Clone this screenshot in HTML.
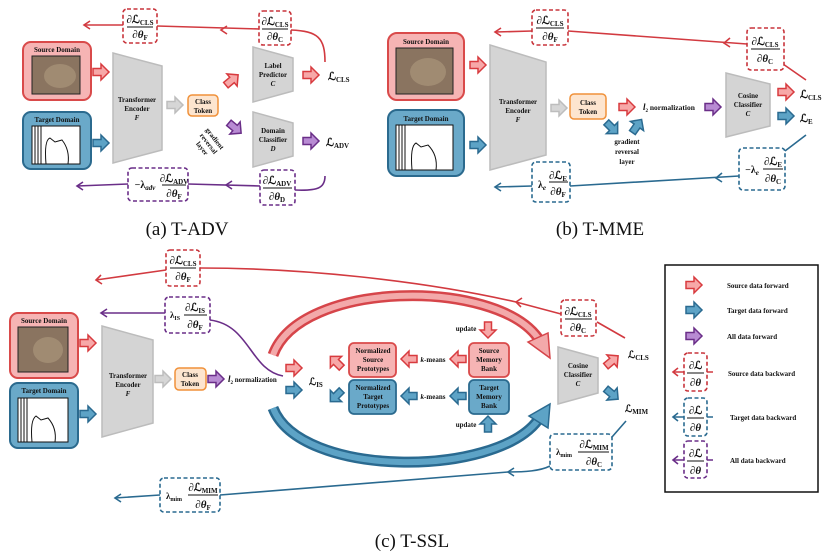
<!DOCTYPE html>
<html><head><meta charset="utf-8"><style>
body{margin:0;background:#fff}
svg{display:block}
text{font-family:"Liberation Serif","DejaVu Serif",serif;font-weight:bold;fill:#111}
.t{font-size:7px;text-anchor:middle}
.f{font-size:11px;text-anchor:middle}
.s{font-size:7px}
.cap{font-size:19px;font-weight:normal;text-anchor:middle}
.lg{font-size:7px}
.rd{fill:#fff;stroke:#c8343b;stroke-width:1.6;stroke-dasharray:4 2.5}
.bd{fill:#fff;stroke:#2a6a90;stroke-width:1.6;stroke-dasharray:4 2.5}
.pd{fill:#fff;stroke:#6a2e88;stroke-width:1.6;stroke-dasharray:4 2.5}
.rl{fill:none;stroke:#d23a40;stroke-width:1.6}
.bl{fill:none;stroke:#2a6a90;stroke-width:1.6}
.pl{fill:none;stroke:#6a2e88;stroke-width:1.6}
.R{fill:#f7a8a8;stroke:#d83b3f;stroke-width:1.5}
.B{fill:#5da3c6;stroke:#2a6a90;stroke-width:1.5}
.P{fill:#b88bd3;stroke:#6a2e88;stroke-width:1.5}
.G{fill:#d6d6d6;stroke:#bdbdbd;stroke-width:1.5}
.enc{fill:#d4d4d4;stroke:#bcbcbc;stroke-width:1.5}
.sd{fill:#f6b4b4;stroke:#d94a4a;stroke-width:2}
.td{fill:#6aa9c9;stroke:#2b6a8e;stroke-width:2}
</style></head><body>
<svg width="827" height="552" viewBox="0 0 827 552" xmlns="http://www.w3.org/2000/svg">
<defs>
<path id="ba" d="M-8,-3.5 H0 V-8 L8,0 L0,8 V3.5 H-8Z"/>
<g id="cat"><rect x="0" y="0" width="1" height="1" fill="#7d6a55"/></g>
</defs>

<!-- ================= (a) ================= -->
<rect x="23" y="42" width="68" height="58" rx="8" class="sd"/>
<text x="57" y="52" class="t">Source Domain</text>
<rect x="32" y="56" width="48" height="38" fill="#8a7460" stroke="#222" stroke-width="1"/>
<ellipse cx="60" cy="76" rx="16" ry="12" fill="#a08b72"/>
<rect x="23" y="112" width="68" height="57" rx="8" class="td"/>
<text x="57" y="122" class="t">Target Domain</text>
<rect x="32" y="126" width="48" height="38" fill="#fff" stroke="#111" stroke-width="1"/>
<path d="M35,126V164M38,126V164M41,126V164" stroke="#111"/>
<path d="M46,164 Q44,140 50,138 L55,142 L62,140 Q70,150 68,164" fill="none" stroke="#111"/>
<use href="#ba" class="R" transform="translate(101,72)"/>
<use href="#ba" class="B" transform="translate(101,143)"/>
<polygon points="113,53 162,66 162,150 113,163" class="enc"/>
<text x="137" y="102" class="t">Transformer</text><text x="137" y="111" class="t">Encoder</text><text x="137" y="120" class="t" font-style="italic">F</text>
<use href="#ba" class="G" transform="translate(175,105)"/>
<rect x="188" y="95" width="30" height="21" rx="4" fill="#fde5cf" stroke="#f0913a" stroke-width="1.5"/>
<text x="203" y="104" class="t">Class</text><text x="203" y="113" class="t">Token</text>
<use href="#ba" class="R" transform="translate(232,80) rotate(-40)"/>
<use href="#ba" class="P" transform="translate(235,128) rotate(40)"/>
<text class="t" transform="translate(213,140) rotate(52)"><tspan x="0" y="0">gradient</tspan><tspan x="0" y="8">reversal</tspan><tspan x="0" y="16">layer</tspan></text>
<polygon points="253,47 293,58 293,91 253,102" class="enc"/>
<text x="273" y="68" class="t">Label</text><text x="273" y="77" class="t">Predictor</text><text x="273" y="86" class="t" font-style="italic">C</text>
<polygon points="253,112 293,123 293,156 253,167" class="enc"/>
<text x="273" y="133" class="t">Domain</text><text x="273" y="142" class="t">Classifier</text><text x="273" y="151" class="t" font-style="italic">D</text>
<use href="#ba" class="R" transform="translate(311,75)"/>
<text x="328" y="80" style="font-size:11px">ℒ<tspan class="s" dy="2">CLS</tspan></text>
<use href="#ba" class="P" transform="translate(311,141)"/>
<text x="326" y="146" style="font-size:11px">ℒ<tspan class="s" dy="2">ADV</tspan></text>
<!-- backward top -->
<path class="rl" d="M325,62 C325,38 318,31 291,30 M259,29 L157,26 M123,25 L84,25"/>
<polyline class="rl" points="227,26 221,30 227,34"/>
<polyline class="rl" points="90,21 84,25 90,29"/>
<rect x="123" y="9" width="34" height="34" rx="4" class="rd"/>
<text x="140" y="23" class="f">∂ℒ<tspan class="s" dy="2">CLS</tspan></text><line x1="127" y1="27" x2="153" y2="27" stroke="#111"/><text x="140" y="38" class="f">∂<tspan font-style="italic">θ</tspan><tspan class="s" dy="2">F</tspan></text>
<rect x="259" y="11" width="32" height="34" rx="4" class="rd"/>
<text x="275" y="25" class="f">∂ℒ<tspan class="s" dy="2">CLS</tspan></text><line x1="262" y1="29" x2="288" y2="29" stroke="#111"/><text x="275" y="40" class="f">∂<tspan font-style="italic">θ</tspan><tspan class="s" dy="2">C</tspan></text>
<!-- backward bottom -->
<path class="pl" d="M325,176 C325,188 318,191 295,190 M260,186 L188,184 M128,184 L77,186"/>
<polyline class="pl" points="232,181 226,185 232,189"/>
<polyline class="pl" points="83,182 77,186 83,190"/>
<rect x="128" y="168" width="60" height="33" rx="4" class="pd"/>
<text x="145" y="188" style="font-size:10px;text-anchor:middle">−λ<tspan class="s" dy="2" font-style="italic">adv</tspan></text>
<text x="174" y="182" class="f">∂ℒ<tspan class="s" dy="2">ADV</tspan></text><line x1="162" y1="185" x2="186" y2="185" stroke="#111"/><text x="174" y="197" class="f">∂<tspan font-style="italic">θ</tspan><tspan class="s" dy="2">F</tspan></text>
<rect x="260" y="170" width="35" height="35" rx="4" class="pd"/>
<text x="277" y="184" class="f">∂ℒ<tspan class="s" dy="2">ADV</tspan></text><line x1="263" y1="188" x2="292" y2="188" stroke="#111"/><text x="277" y="200" class="f">∂<tspan font-style="italic">θ</tspan><tspan class="s" dy="2">D</tspan></text>
<text x="187" y="235" class="cap">(a) T-ADV</text>

<!-- ================= (b) ================= -->
<rect x="388" y="33" width="76" height="67" rx="9" class="sd"/>
<text x="426" y="44" class="t">Source Domain</text>
<rect x="396" y="48" width="57" height="46" fill="#8a7460" stroke="#222"/>
<ellipse cx="428" cy="72" rx="18" ry="14" fill="#a08b72"/>
<rect x="388" y="110" width="76" height="66" rx="9" class="td"/>
<text x="426" y="121" class="t">Target Domain</text>
<rect x="396" y="125" width="57" height="45" fill="#fff" stroke="#111"/>
<path d="M399,125V170M402,125V170M405,125V170" stroke="#111"/>
<path d="M412,170 Q410,146 416,143 L421,147 L428,145 Q438,155 436,170" fill="none" stroke="#111"/>
<use href="#ba" class="R" transform="translate(478,65)"/>
<use href="#ba" class="B" transform="translate(478,145)"/>
<polygon points="490,45 546,62 546,155 490,170" class="enc"/>
<text x="518" y="104" class="t">Transformer</text><text x="518" y="113" class="t">Encoder</text><text x="518" y="122" class="t" font-style="italic">F</text>
<use href="#ba" class="G" transform="translate(559,108)"/>
<rect x="570" y="94" width="36" height="25" rx="4" fill="#fde5cf" stroke="#f0913a" stroke-width="1.5"/>
<text x="588" y="105" class="t">Class</text><text x="588" y="114" class="t">Token</text>
<use href="#ba" class="R" transform="translate(627,107)"/>
<use href="#ba" class="B" transform="translate(612,128) rotate(45)"/>
<use href="#ba" class="B" transform="translate(637,126) rotate(-55)"/>
<text x="627" y="144" class="t">gradient</text><text x="627" y="154" class="t">reversal</text><text x="627" y="164" class="t">layer</text>
<text x="643" y="110" style="font-size:7.5px"><tspan font-style="italic" font-size="9">l</tspan><tspan font-size="5" dy="2">2</tspan><tspan dy="-2"> normalization</tspan></text>
<use href="#ba" class="P" transform="translate(713,107)"/>
<polygon points="726,73 770,84 770,126 726,137" class="enc"/>
<text x="748" y="98" class="t">Cosine</text><text x="748" y="107" class="t">Classifier</text><text x="748" y="116" class="t" font-style="italic">C</text>
<use href="#ba" class="R" transform="translate(786,92)"/>
<text x="800" y="98" style="font-size:11px">ℒ<tspan class="s" dy="2">CLS</tspan></text>
<use href="#ba" class="B" transform="translate(786,116)"/>
<text x="800" y="122" style="font-size:11px">ℒ<tspan class="s" dy="2">E</tspan></text>
<path class="rl" d="M806,80 L783,64 M747,44 L568,31 M532,31 L495,32"/>
<polyline class="rl" points="730,38 724,43 730,47"/>
<polyline class="rl" points="501,28 495,32 501,36"/>
<rect x="532" y="10" width="36" height="35" rx="4" class="rd"/>
<text x="550" y="24" class="f">∂ℒ<tspan class="s" dy="2">CLS</tspan></text><line x1="536" y1="28" x2="564" y2="28" stroke="#111"/><text x="550" y="40" class="f">∂<tspan font-style="italic">θ</tspan><tspan class="s" dy="2">F</tspan></text>
<rect x="747" y="28" width="37" height="42" rx="4" class="rd"/>
<text x="765" y="45" class="f">∂ℒ<tspan class="s" dy="2">CLS</tspan></text><line x1="751" y1="49" x2="780" y2="49" stroke="#111"/><text x="765" y="62" class="f">∂<tspan font-style="italic">θ</tspan><tspan class="s" dy="2">C</tspan></text>
<path class="bl" d="M806,135 L785,151 M739,176 L570,186 M532,186 L495,187"/>
<polyline class="bl" points="722,173 716,178 722,182"/>
<polyline class="bl" points="501,183 495,187 501,191"/>
<rect x="532" y="162" width="38" height="40" rx="4" class="bd"/>
<text x="542" y="188" style="font-size:10px;text-anchor:middle">λ<tspan class="s" dy="2" font-style="italic">e</tspan></text>
<text x="558" y="179" class="f">∂ℒ<tspan class="s" dy="2">E</tspan></text><line x1="549" y1="182" x2="568" y2="182" stroke="#111"/><text x="558" y="195" class="f">∂<tspan font-style="italic">θ</tspan><tspan class="s" dy="2">F</tspan></text>
<rect x="739" y="148" width="46" height="42" rx="4" class="bd"/>
<text x="752" y="173" style="font-size:10px;text-anchor:middle">−λ<tspan class="s" dy="2" font-style="italic">e</tspan></text>
<text x="773" y="165" class="f">∂ℒ<tspan class="s" dy="2">E</tspan></text><line x1="763" y1="169" x2="783" y2="169" stroke="#111"/><text x="773" y="182" class="f">∂<tspan font-style="italic">θ</tspan><tspan class="s" dy="2">C</tspan></text>
<text x="600" y="235" class="cap">(b) T-MME</text>

<!-- ================= (c) ================= -->
<rect x="10" y="313" width="68" height="65" rx="8" class="sd"/>
<text x="44" y="323" class="t">Source Domain</text>
<rect x="18" y="327" width="50" height="45" fill="#8a7460" stroke="#222"/>
<ellipse cx="48" cy="350" rx="15" ry="13" fill="#a08b72"/>
<rect x="10" y="383" width="68" height="65" rx="8" class="td"/>
<text x="44" y="393" class="t">Target Domain</text>
<rect x="18" y="398" width="50" height="44" fill="#fff" stroke="#111"/>
<path d="M21,398V442M24,398V442M27,398V442" stroke="#111"/>
<path d="M32,442 Q30,420 36,416 L41,420 L48,418 Q57,428 55,442" fill="none" stroke="#111"/>
<use href="#ba" class="R" transform="translate(88,343)"/>
<use href="#ba" class="B" transform="translate(88,414)"/>
<polygon points="102,326 153,340 153,423 102,437" class="enc"/>
<text x="128" y="378" class="t">Transformer</text><text x="128" y="387" class="t">Encoder</text><text x="128" y="396" class="t" font-style="italic">F</text>
<use href="#ba" class="G" transform="translate(163,379)"/>
<rect x="175" y="368" width="31" height="22" rx="4" fill="#fde5cf" stroke="#f0913a" stroke-width="1.5"/>
<text x="190" y="377" class="t">Class</text><text x="190" y="386" class="t">Token</text>
<use href="#ba" class="P" transform="translate(216,379)"/>
<text x="228" y="382" style="font-size:7px"><tspan font-style="italic" font-size="9">l</tspan><tspan font-size="5" dy="2">2</tspan><tspan dy="-2"> normalization</tspan></text>
<use href="#ba" class="R" transform="translate(294,368)"/>
<use href="#ba" class="B" transform="translate(294,390)"/>
<text x="309" y="385" style="font-size:10px">ℒ<tspan class="s" dy="2">IS</tspan></text>
<!-- big curved arrows -->
<path d="M273,355 C300,280 495,278 538,338" fill="none" stroke="#d6454a" stroke-width="11"/>
<path d="M273,355 C300,280 495,278 538,338" fill="none" stroke="#f3a9aa" stroke-width="6"/>
<polygon points="528,342 548,333 550,358" fill="#f3a9aa" stroke="#d6454a" stroke-width="1.5"/>
<path d="M273,408 C300,478 495,478 538,420" fill="none" stroke="#2a6a90" stroke-width="11"/>
<path d="M273,408 C300,478 495,478 538,420" fill="none" stroke="#5da3c6" stroke-width="6"/>
<polygon points="529,416 550,404 548,428" fill="#5da3c6" stroke="#2a6a90" stroke-width="1.5"/>
<rect x="349" y="343" width="47" height="34" rx="5" fill="#f6b4b4" stroke="#d94a4a" stroke-width="1.8"/>
<text x="373" y="353" class="t">Normalized</text><text x="373" y="362" class="t">Source</text><text x="373" y="371" class="t">Prototypes</text>
<rect x="349" y="380" width="47" height="34" rx="5" fill="#6aa9c9" stroke="#2b6a8e" stroke-width="1.8"/>
<text x="373" y="390" class="t">Normalized</text><text x="373" y="399" class="t">Target</text><text x="373" y="408" class="t">Prototypes</text>
<rect x="469" y="343" width="40" height="34" rx="5" fill="#f6b4b4" stroke="#d94a4a" stroke-width="1.8"/>
<text x="489" y="353" class="t">Source</text><text x="489" y="362" class="t">Memory</text><text x="489" y="371" class="t">Bank</text>
<rect x="469" y="380" width="40" height="34" rx="5" fill="#6aa9c9" stroke="#2b6a8e" stroke-width="1.8"/>
<text x="489" y="390" class="t">Target</text><text x="489" y="399" class="t">Memory</text><text x="489" y="408" class="t">Bank</text>
<use href="#ba" class="R" transform="translate(409,359) rotate(180)"/>
<use href="#ba" class="R" transform="translate(458,359) rotate(180)"/>
<text x="433" y="362" class="t"><tspan font-style="italic">k</tspan>-means</text>
<use href="#ba" class="B" transform="translate(409,396) rotate(180)"/>
<use href="#ba" class="B" transform="translate(458,396) rotate(180)"/>
<text x="433" y="399" class="t"><tspan font-style="italic">k</tspan>-means</text>
<use href="#ba" class="R" transform="translate(336,362) rotate(-135)"/>
<use href="#ba" class="B" transform="translate(336,396) rotate(135)"/>
<use href="#ba" class="R" transform="translate(488,330) rotate(90)"/>
<text x="466" y="331" class="t">update</text>
<use href="#ba" class="B" transform="translate(488,424) rotate(-90)"/>
<text x="466" y="427" class="t">update</text>
<polygon points="558,347 598,358 598,393 558,404" class="enc"/>
<text x="578" y="368" class="t">Cosine</text><text x="578" y="377" class="t">Classifier</text><text x="578" y="386" class="t" font-style="italic">C</text>
<use href="#ba" class="R" transform="translate(612,361) rotate(-40)"/>
<text x="628" y="358" style="font-size:10px">ℒ<tspan class="s" dy="2">CLS</tspan></text>
<use href="#ba" class="B" transform="translate(612,394) rotate(40)"/>
<text x="625" y="412" style="font-size:10px">ℒ<tspan class="s" dy="2">MIM</tspan></text>
<!-- backward c -->
<path class="rl" d="M625,338 L597,322 M561,314 L516,302 C420,280 300,268 200,268 M166,270 L96,280"/>
<polyline class="rl" points="522,298 516,302 521,307"/>
<polyline class="rl" points="101,275 96,280 102,284"/>
<rect x="166" y="250" width="34" height="36" rx="4" class="rd"/>
<text x="183" y="264" class="f">∂ℒ<tspan class="s" dy="2">CLS</tspan></text><line x1="170" y1="268" x2="196" y2="268" stroke="#111"/><text x="183" y="280" class="f">∂<tspan font-style="italic">θ</tspan><tspan class="s" dy="2">F</tspan></text>
<rect x="561" y="300" width="35" height="36" rx="4" class="rd"/>
<text x="578" y="315" class="f">∂ℒ<tspan class="s" dy="2">CLS</tspan></text><line x1="565" y1="319" x2="592" y2="319" stroke="#111"/><text x="578" y="331" class="f">∂<tspan font-style="italic">θ</tspan><tspan class="s" dy="2">C</tspan></text>
<path class="pl" d="M283,376 C250,370 250,325 210,320 M165,313 L101,313"/>
<polyline class="pl" points="107,309 101,313 107,317"/>
<rect x="165" y="297" width="45" height="36" rx="4" class="pd"/>
<text x="175" y="318" style="font-size:9px;text-anchor:middle">λ<tspan font-size="6" dy="2">IS</tspan></text>
<text x="195" y="311" class="f">∂ℒ<tspan class="s" dy="2">IS</tspan></text><line x1="184" y1="315" x2="207" y2="315" stroke="#111"/><text x="195" y="328" class="f">∂<tspan font-style="italic">θ</tspan><tspan class="s" dy="2">F</tspan></text>
<path class="bl" d="M626,421 L612,437 M550,466 C540,471 525,472 508,472 L220,495 M160,495 L115,498"/>
<polyline class="bl" points="514,468 508,472 514,476"/>
<polyline class="bl" points="121,494 115,498 121,502"/>
<rect x="550" y="434" width="62" height="36" rx="4" class="bd"/>
<text x="564" y="455" style="font-size:9px;text-anchor:middle">λ<tspan font-size="6" dy="2">mim</tspan></text>
<text x="594" y="448" class="f">∂ℒ<tspan class="s" dy="2">MIM</tspan></text><line x1="578" y1="452" x2="609" y2="452" stroke="#111"/><text x="594" y="465" class="f">∂<tspan font-style="italic">θ</tspan><tspan class="s" dy="2">C</tspan></text>
<rect x="160" y="478" width="60" height="34" rx="4" class="bd"/>
<text x="174" y="499" style="font-size:9px;text-anchor:middle">λ<tspan font-size="6" dy="2">mim</tspan></text>
<text x="203" y="491" class="f">∂ℒ<tspan class="s" dy="2">MIM</tspan></text><line x1="188" y1="495" x2="218" y2="495" stroke="#111"/><text x="203" y="508" class="f">∂<tspan font-style="italic">θ</tspan><tspan class="s" dy="2">F</tspan></text>
<text x="412" y="547" class="cap">(c) T-SSL</text>

<!-- legend -->
<rect x="665" y="265" width="153" height="227" fill="#fff" stroke="#111" stroke-width="1.5"/>
<use href="#ba" class="R" transform="translate(694,285)"/>
<text x="727" y="288" class="lg">Source data forward</text>
<use href="#ba" class="B" transform="translate(694,310)"/>
<text x="727" y="313" class="lg">Target data forward</text>
<use href="#ba" class="P" transform="translate(694,336)"/>
<text x="727" y="339" class="lg">All data forward</text>
<path class="rl" d="M673,372 L684,372 M707,372 L713,372"/><polyline class="rl" points="678,368 673,372 678,376"/>
<rect x="684" y="353" width="23" height="38" rx="4" class="rd"/>
<text x="695.5" y="369" class="f">∂ℒ</text><line x1="687" y1="373" x2="704" y2="373" stroke="#111"/><text x="695.5" y="386" class="f">∂<tspan font-style="italic">θ</tspan></text>
<text x="728" y="376" class="lg">Source data backward</text>
<path class="bl" d="M673,417 L684,417 M707,417 L713,417"/><polyline class="bl" points="678,413 673,417 678,421"/>
<rect x="684" y="398" width="23" height="38" rx="4" class="bd"/>
<text x="695.5" y="414" class="f">∂ℒ</text><line x1="687" y1="418" x2="704" y2="418" stroke="#111"/><text x="695.5" y="431" class="f">∂<tspan font-style="italic">θ</tspan></text>
<text x="730" y="420" class="lg">Target data backward</text>
<path class="pl" d="M673,460 L684,460 M707,460 L713,460"/><polyline class="pl" points="678,456 673,460 678,464"/>
<rect x="684" y="441" width="23" height="37" rx="4" class="pd"/>
<text x="695.5" y="457" class="f">∂ℒ</text><line x1="687" y1="461" x2="704" y2="461" stroke="#111"/><text x="695.5" y="474" class="f">∂<tspan font-style="italic">θ</tspan></text>
<text x="730" y="463" class="lg">All data backward</text>
</svg>
</body></html>
